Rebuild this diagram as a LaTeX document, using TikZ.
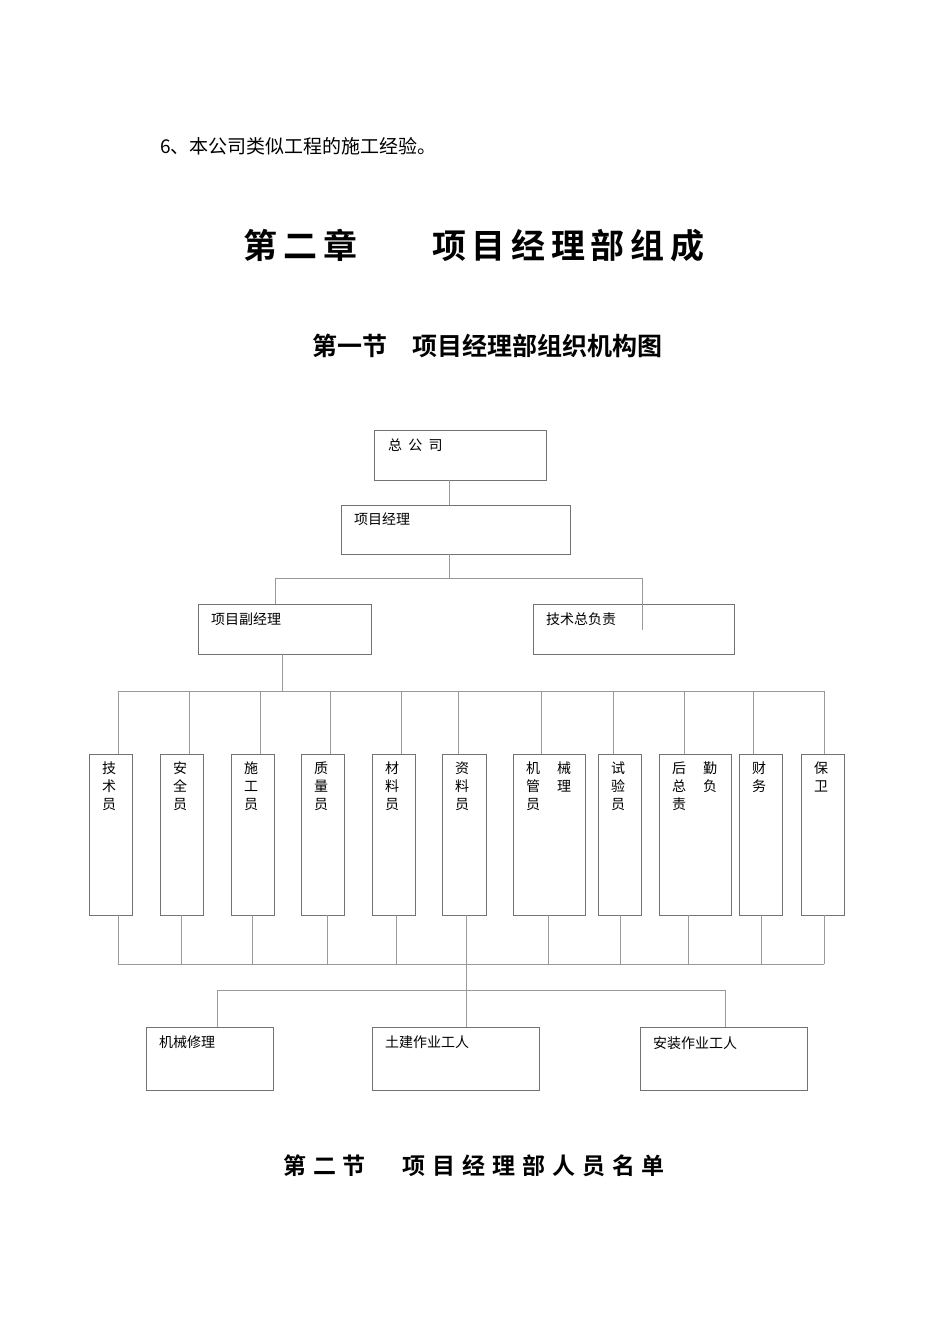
\documentclass[tikz,border=0pt]{standalone}
\usepackage{fontspec}
\setmainfont{Liberation Serif}
\newfontfamily\cjk{Noto Sans CJK SC}
\newfontfamily\cjkb{Noto Sans CJK SC Bold}
\begin{document}
\begin{tikzpicture}[x=1pt,y=-1pt,
  bx/.style={draw=black!55,line width=0.6pt},
  ln/.style={draw=black!40,line width=0.6pt},
  lab/.style={anchor=north west,inner sep=0pt,font=\cjk\fontsize{14}{18}\selectfont,align=left},
  vt/.style={anchor=north west,inner sep=0pt,font=\cjk\fontsize{14}{18}\selectfont,align=center}]
\useasboundingbox (0,0) rectangle (950,1344);
\node[anchor=west,inner sep=0pt,font=\cjk\fontsize{19}{22}\selectfont] (t0) at (160,146) {6、本公司类似工程的施工经验。};
\node[inner sep=0pt,font=\cjkb\fontsize{34}{40}\selectfont] (t1) at (474,246) {第\,二\,章\hspace{2.2em}项\,目\,经\,理\,部\,组\,成};
\node[inner sep=0pt,font=\cjkb\fontsize{25}{30}\selectfont] (t2) at (487,346) {第一节\hspace{1em}项目经理部组织机构图};
\node[inner sep=0pt,font=\cjkb\fontsize{23}{28}\selectfont] (t3) at (474,1166) {第\hspace{0.3em}二\hspace{0.3em}节\hspace{1.6em}项\hspace{0.3em}目\hspace{0.3em}经\hspace{0.3em}理\hspace{0.3em}部\hspace{0.3em}人\hspace{0.3em}员\hspace{0.3em}名\hspace{0.3em}单};
% top boxes
\draw[bx] (374,430) rectangle (546,480); \node[lab] (a) at (388,439) {总\ \ 公\ \ 司};
\draw[bx] (341,505) rectangle (570,554); \node[lab] (b) at (354,513) {项目经理};
\draw[bx] (198,604) rectangle (371,654); \node[lab] (c) at (211,613) {项目副经理};
\draw[bx] (533,604) rectangle (734,654); \node[lab] (d) at (546,613) {技术总负责};
\draw[ln] (449,480)--(449,505) (449,554)--(449,578) (275,578)--(642,578) (275,578)--(275,604) (642,578)--(642,630);
\draw[ln] (282,654)--(282,691) (118,691)--(824,691);
% small boxes
\foreach \l/\r/\tx/\bx/\t in {89/132/118/118/技\\术\\员,160/203/189/181/安\\全\\员,231/274/260/252/施\\工\\员,301/344/330/327/质\\量\\员,372/415/401/396/材\\料\\员,442/486/458/466/资\\料\\员,598/641/613/620/试\\验\\员,739/782/753/761/财\\务,801/844/824/824/保\\卫}{
  \draw[bx] (\l,754) rectangle (\r,915);
  \node[vt] at (\l+13,762) {\t};
  \draw[ln] (\tx,691)--(\tx,754) (\bx,915)--(\bx,964);
}
\draw[bx] (513,754) rectangle (585,915);
\node[vt] (m1) at (526,762) {机\\管\\员}; \node[vt] (m2) at (557,762) {械\\理};
\draw[ln] (541,691)--(541,754) (548,915)--(548,964);
\draw[bx] (659,754) rectangle (731,915);
\node[vt] (h1) at (672,762) {后\\总\\责}; \node[vt] (h2) at (703,762) {勤\\负};
\draw[ln] (684,691)--(684,754) (688,915)--(688,964);
\draw[ln] (118,964)--(824,964) (466,964)--(466,990) (217,990)--(725,990);
% bottom boxes
\draw[bx] (146,1027) rectangle (273,1090); \node[lab] (e) at (159,1036) {机械修理};
\draw[bx] (372,1027) rectangle (539,1090); \node[lab] (f) at (385,1036) {土建作业工人};
\draw[bx] (640,1027) rectangle (807,1090); \node[lab] (g) at (653,1036) {安装作业工人};
\draw[ln] (217,990)--(217,1027) (466,990)--(466,1027) (725,990)--(725,1027);
\end{tikzpicture}
\end{document}
